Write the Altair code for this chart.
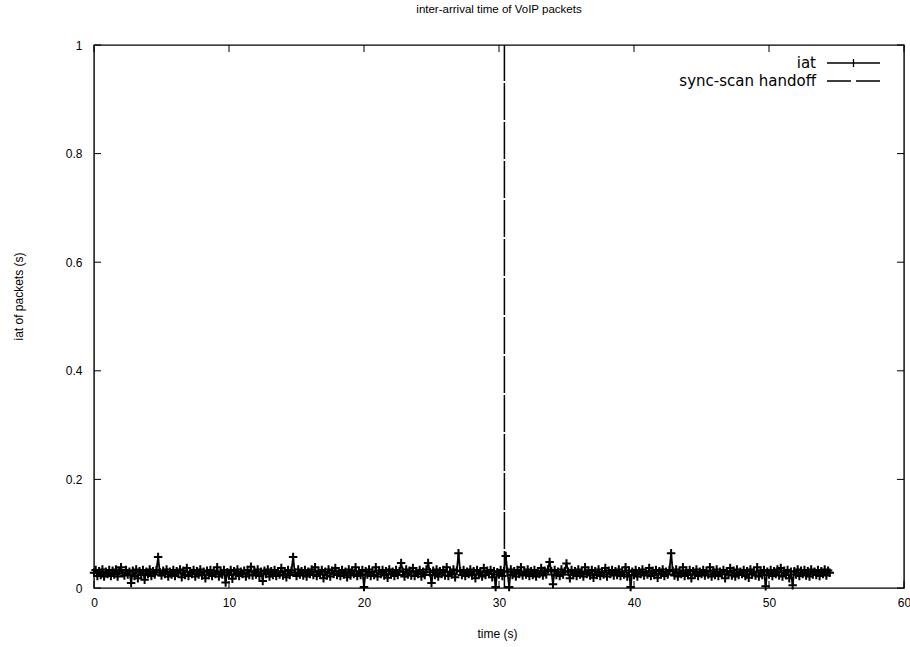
import altair as alt
import pandas as pd

TITLE = "inter-arrival time of VoIP packets"
X_TITLE = "time (s)"
Y_TITLE = "iat of packets (s)"
SERIES_NAMES = ["iat", "sync-scan handoff"]

TIME = [
    0.0, 0.125, 0.25, 0.375, 0.5, 0.625, 0.75, 0.875,
    1.0, 1.125, 1.25, 1.375, 1.5, 1.625, 1.75, 1.875,
    2.0, 2.125, 2.25, 2.375, 2.5, 2.625, 2.75, 2.875,
    3.0, 3.125, 3.25, 3.375, 3.5, 3.625, 3.75, 3.875,
    4.0, 4.125, 4.25, 4.375, 4.5, 4.625, 4.75, 4.875,
    5.0, 5.125, 5.25, 5.375, 5.5, 5.625, 5.75, 5.875,
    6.0, 6.125, 6.25, 6.375, 6.5, 6.625, 6.75, 6.875,
    7.0, 7.125, 7.25, 7.375, 7.5, 7.625, 7.75, 7.875,
    8.0, 8.125, 8.25, 8.375, 8.5, 8.625, 8.75, 8.875,
    9.0, 9.125, 9.25, 9.375, 9.5, 9.625, 9.75, 9.875,
    10.0, 10.125, 10.25, 10.375, 10.5, 10.625, 10.75, 10.875,
    11.0, 11.125, 11.25, 11.375, 11.5, 11.625, 11.75, 11.875,
    12.0, 12.125, 12.25, 12.375, 12.5, 12.625, 12.75, 12.875,
    13.0, 13.125, 13.25, 13.375, 13.5, 13.625, 13.75, 13.875,
    14.0, 14.125, 14.25, 14.375, 14.5, 14.625, 14.75, 14.875,
    15.0, 15.125, 15.25, 15.375, 15.5, 15.625, 15.75, 15.875,
    16.0, 16.125, 16.25, 16.375, 16.5, 16.625, 16.75, 16.875,
    17.0, 17.125, 17.25, 17.375, 17.5, 17.625, 17.75, 17.875,
    18.0, 18.125, 18.25, 18.375, 18.5, 18.625, 18.75, 18.875,
    19.0, 19.125, 19.25, 19.375, 19.5, 19.625, 19.75, 19.875,
    20.0, 20.125, 20.25, 20.375, 20.5, 20.625, 20.75, 20.875,
    21.0, 21.125, 21.25, 21.375, 21.5, 21.625, 21.75, 21.875,
    22.0, 22.125, 22.25, 22.375, 22.5, 22.625, 22.75, 22.875,
    23.0, 23.125, 23.25, 23.375, 23.5, 23.625, 23.75, 23.875,
    24.0, 24.125, 24.25, 24.375, 24.5, 24.625, 24.75, 24.875,
    25.0, 25.125, 25.25, 25.375, 25.5, 25.625, 25.75, 25.875,
    26.0, 26.125, 26.25, 26.375, 26.5, 26.625, 26.75, 26.875,
    27.0, 27.125, 27.25, 27.375, 27.5, 27.625, 27.75, 27.875,
    28.0, 28.125, 28.25, 28.375, 28.5, 28.625, 28.75, 28.875,
    29.0, 29.125, 29.25, 29.375, 29.5, 29.625, 29.75, 29.875,
    30.0, 30.125, 30.25, 30.375, 30.5, 30.625, 30.75, 30.875,
    31.0, 31.125, 31.25, 31.375, 31.5, 31.625, 31.75, 31.875,
    32.0, 32.125, 32.25, 32.375, 32.5, 32.625, 32.75, 32.875,
    33.0, 33.125, 33.25, 33.375, 33.5, 33.625, 33.75, 33.875,
    34.0, 34.125, 34.25, 34.375, 34.5, 34.625, 34.75, 34.875,
    35.0, 35.125, 35.25, 35.375, 35.5, 35.625, 35.75, 35.875,
    36.0, 36.125, 36.25, 36.375, 36.5, 36.625, 36.75, 36.875,
    37.0, 37.125, 37.25, 37.375, 37.5, 37.625, 37.75, 37.875,
    38.0, 38.125, 38.25, 38.375, 38.5, 38.625, 38.75, 38.875,
    39.0, 39.125, 39.25, 39.375, 39.5, 39.625, 39.75, 39.875,
    40.0, 40.125, 40.25, 40.375, 40.5, 40.625, 40.75, 40.875,
    41.0, 41.125, 41.25, 41.375, 41.5, 41.625, 41.75, 41.875,
    42.0, 42.125, 42.25, 42.375, 42.5, 42.625, 42.75, 42.875,
    43.0, 43.125, 43.25, 43.375, 43.5, 43.625, 43.75, 43.875,
    44.0, 44.125, 44.25, 44.375, 44.5, 44.625, 44.75, 44.875,
    45.0, 45.125, 45.25, 45.375, 45.5, 45.625, 45.75, 45.875,
    46.0, 46.125, 46.25, 46.375, 46.5, 46.625, 46.75, 46.875,
    47.0, 47.125, 47.25, 47.375, 47.5, 47.625, 47.75, 47.875,
    48.0, 48.125, 48.25, 48.375, 48.5, 48.625, 48.75, 48.875,
    49.0, 49.125, 49.25, 49.375, 49.5, 49.625, 49.75, 49.875,
    50.0, 50.125, 50.25, 50.375, 50.5, 50.625, 50.75, 50.875,
    51.0, 51.125, 51.25, 51.375, 51.5, 51.625, 51.75, 51.875,
    52.0, 52.125, 52.25, 52.375, 52.5, 52.625, 52.75, 52.875,
    53.0, 53.125, 53.25, 53.375, 53.5, 53.625, 53.75, 53.875,
    54.0, 54.125, 54.25, 54.375, 54.5,
]

IAT = [
    # 0 - 5 s
    0.028, 0.033, 0.022, 0.031, 0.024, 0.034, 0.021, 0.030, 0.026, 0.033,
    0.022, 0.032, 0.025, 0.034, 0.021, 0.031, 0.038, 0.027, 0.023, 0.033,
    0.025, 0.030, 0.009, 0.032, 0.022, 0.034, 0.018, 0.031, 0.024, 0.033,
    0.015, 0.030, 0.026, 0.034, 0.022, 0.031, 0.025, 0.033, 0.057, 0.029,
    # 5 - 10 s
    0.023, 0.032, 0.026, 0.034, 0.021, 0.030, 0.025, 0.033, 0.022, 0.031,
    0.027, 0.034, 0.020, 0.032, 0.024, 0.037, 0.022, 0.030, 0.026, 0.033,
    0.021, 0.031, 0.025, 0.034, 0.023, 0.030, 0.018, 0.032, 0.024, 0.033,
    0.022, 0.031, 0.026, 0.038, 0.021, 0.030, 0.025, 0.033, 0.010, 0.029,
    # 10 - 15 s
    0.024, 0.033, 0.017, 0.031, 0.025, 0.034, 0.022, 0.030, 0.026, 0.032,
    0.021, 0.033, 0.024, 0.039, 0.023, 0.031, 0.025, 0.034, 0.022, 0.030,
    0.013, 0.032, 0.026, 0.034, 0.021, 0.031, 0.024, 0.033, 0.022, 0.030,
    0.025, 0.037, 0.023, 0.031, 0.020, 0.033, 0.024, 0.032, 0.057, 0.028,
    # 15 - 20 s
    0.022, 0.034, 0.025, 0.031, 0.023, 0.033, 0.021, 0.030, 0.026, 0.034,
    0.024, 0.038, 0.022, 0.031, 0.025, 0.033, 0.018, 0.030, 0.023, 0.034,
    0.021, 0.032, 0.026, 0.037, 0.024, 0.031, 0.022, 0.033, 0.025, 0.030,
    0.020, 0.034, 0.023, 0.032, 0.026, 0.038, 0.022, 0.031, 0.024, 0.033,
    # 20 - 25 s
    0.002, 0.031, 0.025, 0.034, 0.022, 0.030, 0.024, 0.038, 0.021, 0.032,
    0.026, 0.033, 0.023, 0.031, 0.019, 0.034, 0.025, 0.030, 0.022, 0.033,
    0.024, 0.031, 0.046, 0.030, 0.021, 0.034, 0.025, 0.032, 0.023, 0.037,
    0.022, 0.031, 0.026, 0.033, 0.021, 0.030, 0.024, 0.034, 0.046, 0.029,
    # 25 - 30 s
    0.009, 0.032, 0.024, 0.034, 0.021, 0.031, 0.026, 0.033, 0.023, 0.038,
    0.022, 0.030, 0.025, 0.034, 0.020, 0.032, 0.064, 0.031, 0.024, 0.033,
    0.022, 0.030, 0.026, 0.034, 0.023, 0.031, 0.018, 0.033, 0.025, 0.030,
    0.021, 0.037, 0.024, 0.032, 0.026, 0.033, 0.020, 0.031, 0.002, 0.029,
    # 30 - 35 s
    0.025, 0.033, 0.022, 0.031, 0.059, 0.030, 0.002, 0.034, 0.024, 0.031,
    0.021, 0.033, 0.026, 0.038, 0.023, 0.030, 0.025, 0.034, 0.022, 0.031,
    0.024, 0.033, 0.021, 0.030, 0.026, 0.037, 0.023, 0.032, 0.025, 0.034,
    0.048, 0.031, 0.007, 0.033, 0.024, 0.030, 0.022, 0.034, 0.025, 0.031,
    # 35 - 40 s
    0.045, 0.030, 0.018, 0.033, 0.024, 0.031, 0.022, 0.034, 0.025, 0.030,
    0.021, 0.038, 0.026, 0.032, 0.023, 0.033, 0.019, 0.031, 0.024, 0.034,
    0.022, 0.030, 0.025, 0.037, 0.021, 0.032, 0.026, 0.033, 0.023, 0.031,
    0.024, 0.034, 0.022, 0.030, 0.025, 0.038, 0.021, 0.032, 0.002, 0.030,
    # 40 - 45 s
    0.024, 0.033, 0.021, 0.031, 0.026, 0.034, 0.023, 0.030, 0.025, 0.037,
    0.022, 0.032, 0.024, 0.033, 0.019, 0.031, 0.026, 0.034, 0.022, 0.030,
    0.025, 0.033, 0.064, 0.031, 0.023, 0.034, 0.021, 0.030, 0.026, 0.038,
    0.022, 0.032, 0.024, 0.033, 0.018, 0.031, 0.025, 0.034, 0.022, 0.030,
    # 45 - 50 s
    0.026, 0.033, 0.023, 0.031, 0.025, 0.038, 0.021, 0.032, 0.024, 0.034,
    0.022, 0.030, 0.026, 0.033, 0.018, 0.031, 0.025, 0.037, 0.023, 0.032,
    0.021, 0.034, 0.024, 0.030, 0.026, 0.033, 0.022, 0.031, 0.019, 0.034,
    0.025, 0.030, 0.023, 0.038, 0.021, 0.032, 0.024, 0.033, 0.003, 0.030,
    # 50 - 54.5 s
    0.025, 0.033, 0.022, 0.031, 0.026, 0.034, 0.023, 0.037, 0.021, 0.032,
    0.024, 0.033, 0.018, 0.030, 0.005, 0.031, 0.025, 0.034, 0.022, 0.032,
    0.026, 0.033, 0.023, 0.031, 0.021, 0.034, 0.025, 0.030, 0.024, 0.033,
    0.022, 0.031, 0.026, 0.034, 0.023, 0.032, 0.028,
]

HANDOFF_TIME = [30.4]
X_TICKS = [0, 10, 20, 30, 40, 50, 60]
Y_TICKS = [0, 0.2, 0.4, 0.6, 0.8, 1.0]

FONT = "Liberation Sans"
KEY_FONT = "DejaVu Sans"
W, H = 810, 543

df = pd.DataFrame({"time": TIME, "iat": IAT})
xscale = alt.Scale(domain=[0, 60], nice=False, zero=False)
yscale = alt.Scale(domain=[0, 1], nice=False)

x_axis = alt.Axis(values=X_TICKS, format="d", ticks=False, domain=False, grid=False,
                  labelFlush=False, labelOverlap=False,
                  labelPadding=9, labelFontSize=12, labelFont=FONT, labelColor="#000",
                  title=X_TITLE, titleFont=FONT, titleFontSize=12, titleFontWeight="normal",
                  titleColor="#000", titleX=W / 2 - 2, titleY=45, titleBaseline="middle")
y_axis = alt.Axis(values=Y_TICKS, format="~g", ticks=False, domain=False, grid=False,
                  labelFlush=False, labelOverlap=False,
                  labelPadding=12, labelFontSize=12, labelFont=FONT, labelColor="#000",
                  title=Y_TITLE, titleFont=FONT, titleFontSize=12, titleFontWeight="normal",
                  titleColor="#000", titleX=-76, titleY=251, titleAngle=-90,
                  titleAlign="center", titleBaseline="middle")

X = lambda f: alt.X(f, scale=xscale, axis=x_axis)
Y = lambda f: alt.Y(f, scale=yscale, axis=y_axis)

base = alt.Chart(df)
line = base.mark_line(color="black", strokeWidth=1.8).encode(
    x=X("time:Q"), y=Y("iat:Q"), order="time:Q")
pts = base.mark_point(shape="M-1,0H1M0,-1V1", size=72, filled=False, color="black",
                      strokeWidth=2, opacity=1).encode(x=X("time:Q"), y=Y("iat:Q"))

handoff = alt.Chart(pd.DataFrame({"h": HANDOFF_TIME})).mark_rule(
    color="black", strokeWidth=1.5, strokeDash=[37, 2]).encode(
    x=X("h:Q"), y=alt.YDatum(0, scale=yscale, axis=y_axis), y2=alt.datum(1))

xt = alt.Chart(pd.DataFrame({"t": X_TICKS}))
xticks_b = xt.mark_rule(color="black", strokeWidth=1).encode(
    x=X("t:Q"), y=alt.YDatum(0, scale=yscale, axis=y_axis), y2=alt.datum(0.013))
xticks_t = xt.mark_rule(color="black", strokeWidth=1).encode(
    x=X("t:Q"), y=alt.YDatum(1, scale=yscale, axis=y_axis), y2=alt.datum(0.987))
yt = alt.Chart(pd.DataFrame({"v": Y_TICKS}))
yticks_l = yt.mark_rule(color="black", strokeWidth=1).encode(
    y=Y("v:Q"), x=alt.XDatum(0, scale=xscale, axis=x_axis), x2=alt.datum(0.52))
yticks_r = yt.mark_rule(color="black", strokeWidth=1).encode(
    y=Y("v:Q"), x=alt.XDatum(60, scale=xscale, axis=x_axis), x2=alt.datum(59.48))

# key (inside top-right, gnuplot style: label then sample)
kd1 = pd.DataFrame({"label": [SERIES_NAMES[0]]})
kd2 = pd.DataFrame({"label": [SERIES_NAMES[1]]})
key_txt1 = alt.Chart(kd1).mark_text(
    align="right", baseline="middle", font=KEY_FONT, fontSize=15, color="#000").encode(
    text="label:N", x=alt.value(722), y=alt.value(18))
key_txt2 = alt.Chart(kd2).mark_text(
    align="right", baseline="middle", font=KEY_FONT, fontSize=15, color="#000").encode(
    text="label:N", x=alt.value(722), y=alt.value(36))
key_line1 = alt.Chart(kd1).mark_rule(color="black", strokeWidth=1.3).encode(
    x=alt.value(733), x2=alt.value(786), y=alt.value(18))
key_tick1 = alt.Chart(kd1).mark_rule(color="black", strokeWidth=1.3).encode(
    x=alt.value(759.5), y=alt.value(14), y2=alt.value(22))
key_line2 = alt.Chart(kd2).mark_rule(color="black", strokeWidth=1.3, strokeDash=[24, 5]).encode(
    x=alt.value(733), x2=alt.value(786), y=alt.value(36))

chart = alt.layer(
    line, pts, handoff, xticks_b, xticks_t, yticks_l, yticks_r,
    key_txt1, key_txt2, key_line1, key_tick1, key_line2,
).properties(
    width=W, height=H,
    title=alt.TitleParams(TITLE, font=FONT, fontSize=11.5, fontWeight="normal",
                          color="#000", anchor="middle", offset=24),
    autosize=alt.AutoSizeParams(type="none"),
    padding={"left": 94, "top": 45, "right": 6, "bottom": 59},
    background="white",
).configure_view(stroke="black", strokeWidth=1.4)

chart.save("out.html", embed_options={"renderer": "svg", "actions": False})
